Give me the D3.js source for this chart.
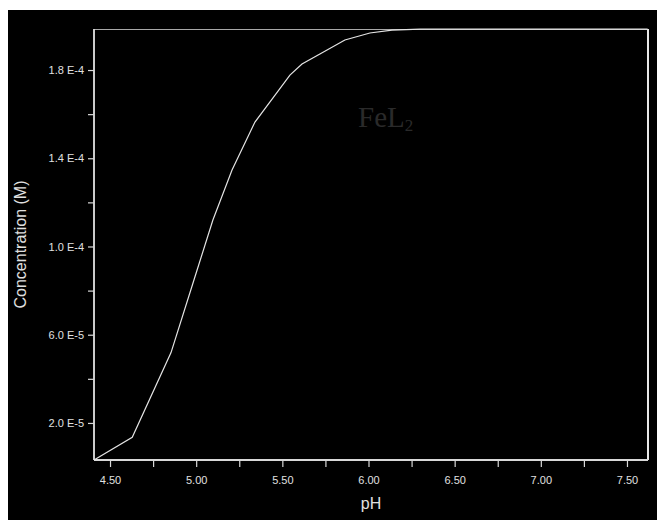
<!DOCTYPE html>
<html><head><meta charset="utf-8">
<script src="https://cdn.jsdelivr.net/npm/d3@7"></script>
<style>html,body{margin:0;padding:0;background:#fff;}svg{display:block;}</style>
</head><body>
<script>
// Data
const pH   = [4.407, 4.629, 4.854, 4.987, 5.097, 5.208, 5.341, 5.544, 5.614, 5.718, 5.863, 6.008, 6.136, 6.30, 6.66, 7.00, 7.62];
const conc = [3.2e-6, 1.35e-5, 5.19e-5, 8.48e-5, 1.12e-4, 1.347e-4, 1.564e-4, 1.777e-4, 1.827e-4, 1.873e-4, 1.936e-4, 1.968e-4, 1.981e-4, 1.985e-4, 1.985e-4, 1.985e-4, 1.985e-4];
const xMajor = [4.5, 5.0, 5.5, 6.0, 6.5, 7.0, 7.5];
const xMinor = [4.75, 5.25, 5.75, 6.25, 6.75, 7.25];
const yMajor = [2e-5, 6e-5, 1e-4, 1.4e-4, 1.8e-4];
const yMinor = [4e-5, 8e-5, 1.2e-4, 1.6e-4];
const yTickLabels = ["2.0 E-5", "6.0 E-5", "1.0 E-4", "1.4 E-4", "1.8 E-4"];
const xTitle = "pH", yTitle = "Concentration (M)";
const seriesLabel = "FeL", seriesSub = "2";

const W = 657, H = 520;
const L = 94, R = 648, T = 29, B = 460;
const svg = d3.select("body").append("svg").attr("width", W).attr("height", H);
svg.append("rect").attr("x", 8).attr("y", 10).attr("width", W - 8).attr("height", H - 10).attr("fill", "#000");

const x = d3.scaleLinear().domain([4.407, 7.622]).range([L, R]);
const y = d3.scaleLinear().domain([3.2e-6, 1.986e-4]).range([B, T]);

// frame top/right
svg.append("line").attr("x1", L).attr("x2", R).attr("y1", T + 0.5).attr("y2", T + 0.5).attr("stroke", "#a8a8a8").attr("stroke-width", 1.2);
svg.append("line").attr("x1", R).attr("x2", R).attr("y1", T).attr("y2", B).attr("stroke", "#e8e8e8").attr("stroke-width", 2);

const axisColor = "#d8d8d8";
// x axis
const gx = svg.append("g").attr("transform", `translate(0,${B})`);
gx.call(d3.axisBottom(x).tickValues(xMajor).tickSize(7).tickSizeOuter(0).tickPadding(9).tickFormat(d3.format(".2f")));
gx.append("g").call(d3.axisBottom(x).tickValues(xMinor).tickSize(7).tickSizeOuter(0).tickFormat(""));
gx.selectAll(".domain").attr("stroke", axisColor).attr("stroke-width", 2).attr("d", `M${L},0H${R}`);
gx.selectAll(".tick line").attr("stroke", axisColor).attr("stroke-width", 1.2);
gx.selectAll("text").attr("fill", "#e0e0e0").attr("font-family", "Liberation Sans, Arial, sans-serif").attr("font-size", 11);

// y axis
const gy = svg.append("g").attr("transform", `translate(${L},0)`);
gy.call(d3.axisLeft(y).tickValues(yMajor).tickSize(6).tickSizeOuter(0).tickPadding(4).tickFormat((d, i) => yTickLabels[i]));
gy.append("g").call(d3.axisLeft(y).tickValues(yMinor).tickSize(6).tickSizeOuter(0).tickFormat(""));
gy.selectAll(".domain").attr("stroke", axisColor).attr("stroke-width", 1.5).attr("d", `M0,${T}V${B}`);
gy.selectAll(".tick line").attr("stroke", axisColor).attr("stroke-width", 1.2);
gy.selectAll("text").attr("fill", "#e0e0e0").attr("font-family", "Liberation Sans, Arial, sans-serif").attr("font-size", 11);

// curve
const pts = pH.map((p, i) => [p, conc[i]]);
svg.append("path").datum(pts)
  .attr("fill", "none").attr("stroke", "#e4e4e4").attr("stroke-width", 1.2)
  .attr("d", d3.line().x(d => x(d[0])).y(d => y(d[1])));

// titles
svg.append("text").attr("x", (L + R) / 2).attr("y", 509).attr("text-anchor", "middle")
  .attr("fill", "#e0e0e0").attr("font-family", "Liberation Sans, Arial, sans-serif").attr("font-size", 16).text(xTitle);
svg.append("text").attr("transform", `translate(26,${(T + B) / 2}) rotate(-90)`).attr("text-anchor", "middle")
  .attr("fill", "#e0e0e0").attr("font-family", "Liberation Sans, Arial, sans-serif").attr("font-size", 16).text(yTitle);

// series label
const lab = svg.append("text").attr("x", 358).attr("y", 127)
  .attr("fill", "#2a2a2a").attr("font-family", "Liberation Serif, Times New Roman, serif").attr("font-size", 29);
lab.append("tspan").text(seriesLabel);
lab.append("tspan").attr("dy", 4).attr("font-size", 17).text(seriesSub);
</script>
</body></html>
